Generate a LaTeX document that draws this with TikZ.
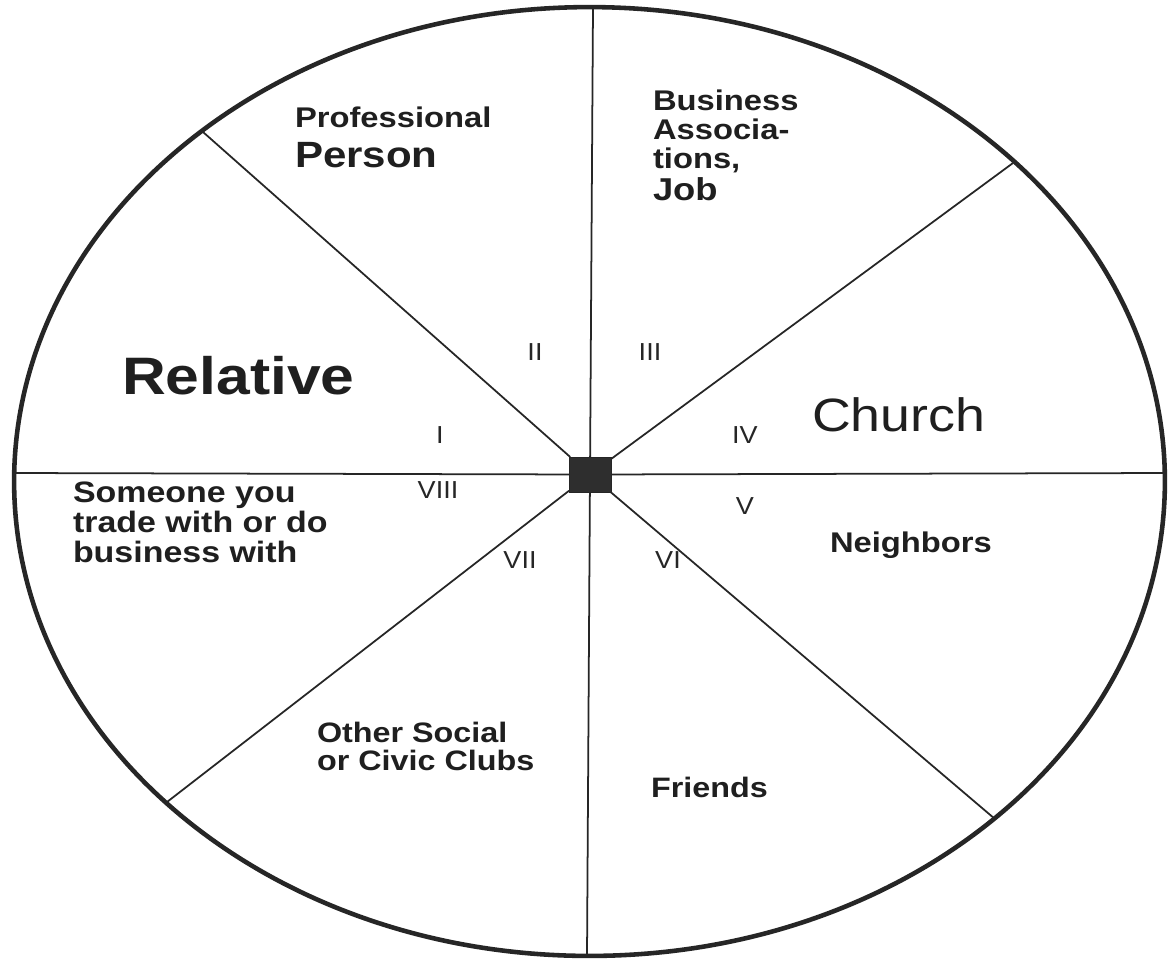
\documentclass[tikz,border=0pt]{standalone}
\usepackage{fontspec}
\setmainfont{Liberation Sans}
\usepackage{graphicx}
\newcommand{\hstretch}[1]{\scalebox{1.15}[1]{#1}}
\newcommand{\fsz}[1]{\fontsize{#1}{#1}\selectfont}
\begin{document}
\begin{tikzpicture}[x=0.02cm,y=-0.02cm,
  lbl/.style={anchor=base west, inner sep=0pt, outer sep=0pt, text=black!88},
  num/.style={anchor=center, inner sep=0pt, outer sep=0pt, text=black!85},
  spoke/.style={line width=1pt, black!85},
  rim/.style={line width=2.6pt, black!85},
  hubbox/.style={draw=black!85, fill=black!82, minimum width=0.84cm, minimum height=0.70cm, inner sep=0pt, outer sep=0pt}]
\fill[white] (0,0) rectangle (1176,958);
\useasboundingbox (0,0) rectangle (1176,958);

% outer oval
\draw[rim] (589.5,481.5) ellipse [x radius=11.51cm, y radius=9.49cm];

% hub and spoke ends
\node[hubbox] (hub) at (590,474.5) {};
\coordinate (eT) at (593,7);
\coordinate (eB) at (587,956);
\coordinate (eL) at (14,473);
\coordinate (eR) at (1165,473);
\coordinate (eUL) at (203,132);
\coordinate (eUR) at (1013,163);
\coordinate (eLL) at (167,802);
\coordinate (eLR) at (995,819);

\draw[spoke] (eT) -- (hub);
\draw[spoke] (hub) -- (eB);
\draw[spoke] (eL) -- (hub);
\draw[spoke] (hub) -- (eR);
\draw[spoke] (eUL) -- (hub);
\draw[spoke] (eUR) -- (hub);
\draw[spoke] (eLL) -- (hub);
\draw[spoke] (eLR) -- (hub);

% sector labels
\node[lbl] (prof1) at (295,127) {\hstretch{\fsz{16.2}\bfseries Professional}};
\node[lbl] (prof2) at (295,167) {\hstretch{\fsz{20.8}\bfseries Person}};

\node[lbl] (bus1) at (653,110) {\hstretch{\fsz{16.2}\bfseries Business}};
\node[lbl] (bus2) at (653,139) {\hstretch{\fsz{16.2}\bfseries Associa-}};
\node[lbl] (bus3) at (653,168) {\hstretch{\fsz{16.2}\bfseries tions,}};
\node[lbl] (bus4) at (653,200) {\hstretch{\fsz{18}\bfseries Job}};

\node[lbl] (rel) at (122,394) {\hstretch{\fsz{30}\bfseries Relative}};
\node[lbl] (church) at (812,431) {\hstretch{\fsz{26.6}Church}};

\node[lbl] (some1) at (73,502) {\hstretch{\fsz{16.8}\bfseries Someone you}};
\node[lbl] (some2) at (73,532) {\hstretch{\fsz{16.8}\bfseries trade with or do}};
\node[lbl] (some3) at (73,562) {\hstretch{\fsz{16.8}\bfseries business with}};

\node[lbl] (neigh) at (830,552) {\hstretch{\fsz{16.2}\bfseries Neighbors}};

\node[lbl] (club1) at (317,742) {\hstretch{\fsz{16}\bfseries Other Social}};
\node[lbl] (club2) at (317,770) {\hstretch{\fsz{16}\bfseries or Civic Clubs}};

\node[lbl] (friends) at (651,797) {\hstretch{\fsz{16}\bfseries Friends}};

% roman numerals
\node[num] (nI) at (440,435) {\scalebox{1.1}[1]{\fsz{14}I}};
\node[num] (nII) at (535,352) {\scalebox{1.1}[1]{\fsz{14}II}};
\node[num] (nIII) at (650,352) {\scalebox{1.1}[1]{\fsz{14}III}};
\node[num] (nIV) at (745,435) {\scalebox{1.1}[1]{\fsz{14}IV}};
\node[num] (nV) at (745,506) {\scalebox{1.1}[1]{\fsz{14}V}};
\node[num] (nVI) at (668,560) {\scalebox{1.1}[1]{\fsz{14}VI}};
\node[num] (nVII) at (520,560) {\scalebox{1.1}[1]{\fsz{14}VII}};
\node[num] (nVIII) at (438,490) {\scalebox{1.1}[1]{\fsz{14}VIII}};
\end{tikzpicture}
\end{document}
